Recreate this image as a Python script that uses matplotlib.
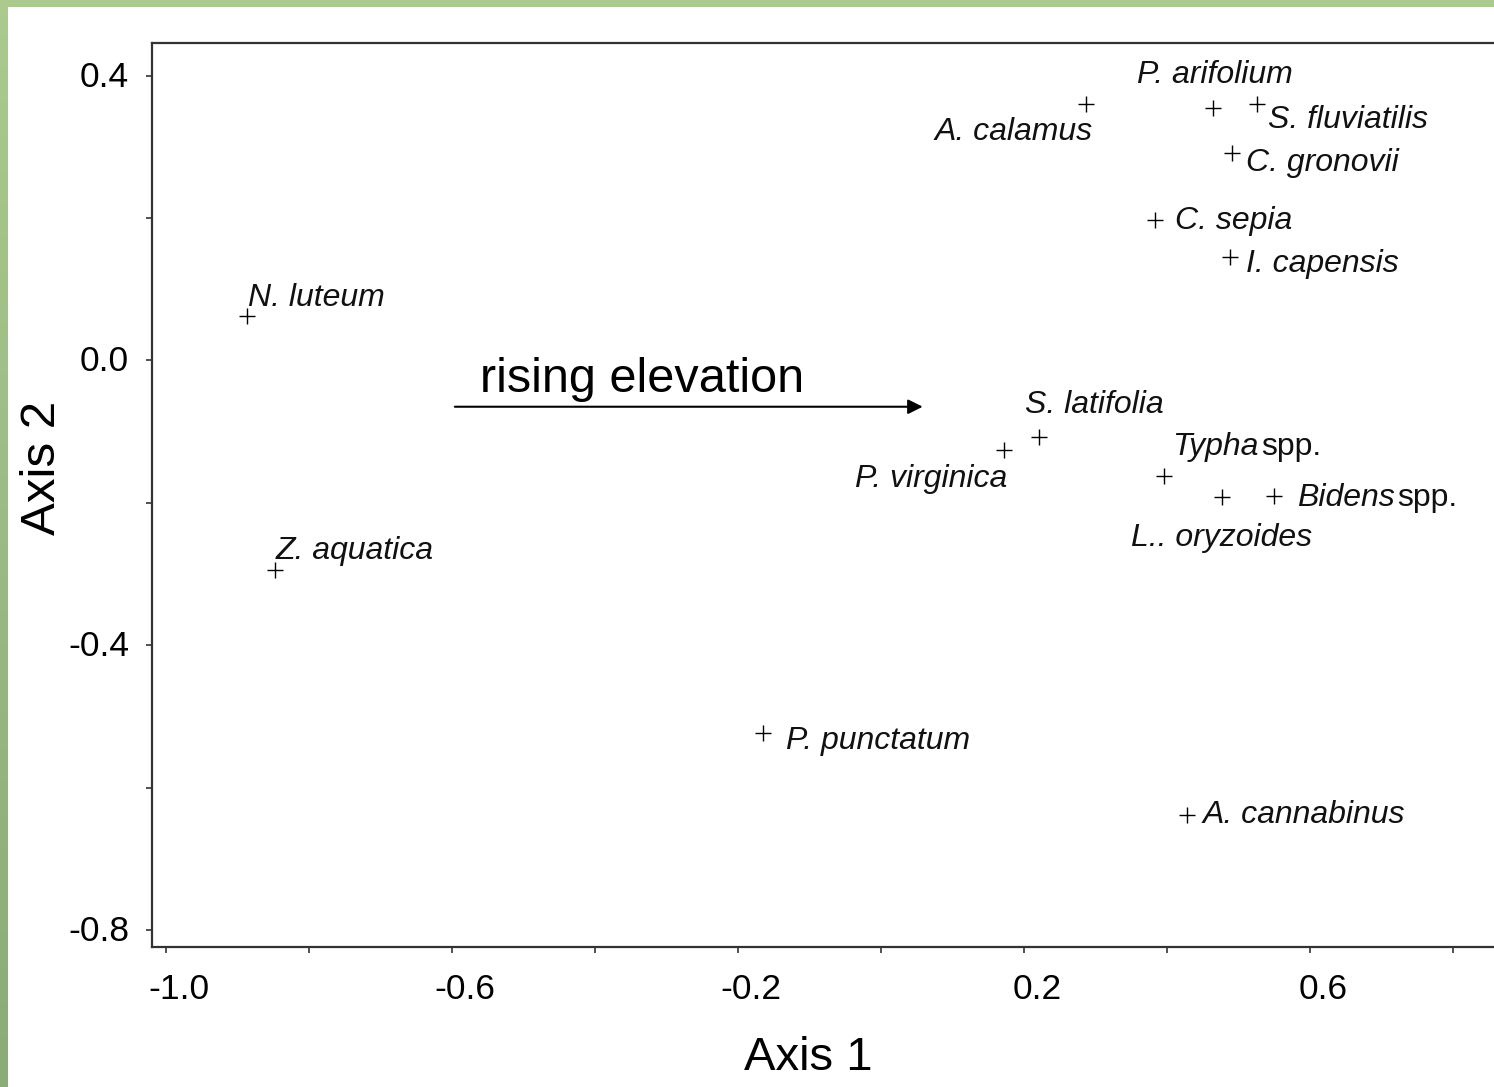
import matplotlib
matplotlib.use("Agg")
import matplotlib.pyplot as plt
import numpy as np
from matplotlib.patches import Rectangle
from matplotlib.transforms import offset_copy, ScaledTranslation

# Species ordination scores (Axis 1, Axis 2)
species = ["N. luteum", "Z. aquatica", "A. calamus", "P. arifolium", "S. fluviatilis",
           "C. gronovii", "C. sepia", "I. capensis", "S. latifolia", "P. virginica",
           "Typha", "L.. oryzoides", "Bidens", "P. punctatum", "A. cannabinus"]
axis1 = [-0.887, -0.848, 0.287, 0.464, 0.526, 0.491, 0.383, 0.488, 0.221, 0.172,
         0.396, 0.476, 0.550, -0.165, 0.428]
axis2 = [0.062, -0.295, 0.360, 0.355, 0.361, 0.291, 0.197, 0.145, -0.108, -0.126,
         -0.162, -0.192, -0.190, -0.524, -0.639]
# genus-level entries get an upright "spp." suffix
suffix = ["", "", "", "", "", "", "", "", "", "", " spp.", "", " spp.", "", ""]

x_ticks = [-1.0, -0.6, -0.2, 0.2, 0.6]
y_ticks = [0.4, 0.0, -0.4, -0.8]

# label placement: offset from the marker in pixels, horizontal alignment
label_offsets = [(1, 18, "left"), (1, 19, "left"), (6, -28, "right"), (2, 33, "center"),
                 (11, -16, "left"), (14, -10, "left"), (20, -1, "left"), (16, -7, "left"),
                 (-14, 32, "left"), (3, -29, "right"), (8, 29, "left"), (0, -41, "center"),
                 (23, -2, "left"), (23, -8, "left"), (15, 0, "left")]

W, H, DPI = 1494, 1087, 100
fig = plt.figure(figsize=(W / DPI, H / DPI), dpi=DPI)

# green frame along the left and top edges
bg = fig.add_axes([0, 0, 1, 1], zorder=-10)
bg.set_axis_off()
grad = np.linspace(0, 1, 64)[:, None]
top_c = np.array([170, 202, 142]) / 255
bot_c = np.array([138, 172, 118]) / 255
img = top_c[None, None, :] * (1 - grad[:, :, None]) + bot_c[None, None, :] * grad[:, :, None]
bg.imshow(img, extent=[0, 1, 0, 1], aspect="auto", origin="upper")
bg.add_patch(Rectangle((8 / W, 0), 1, 1 - 7 / H, facecolor="white", edgecolor="none"))
bg.set_xlim(0, 1)
bg.set_ylim(0, 1)

label_family = ["Liberation Sans"]

ax = fig.add_axes([152 / W, (H - 947) / H, (W - 152) / W, (947 - 43) / H])
ax.set_facecolor("none")
ax.set_xlim(-1.0196, 0.857)
ax.set_ylim(-0.824, 0.446)

for side in ["left", "bottom", "top"]:
    ax.spines[side].set_color("#333333")
    ax.spines[side].set_linewidth(1.6)
ax.spines["right"].set_visible(False)

ax.set_xticks(x_ticks)
ax.set_xticklabels([f"{v:.1f}" for v in x_ticks])
ax.set_yticks(y_ticks)
ax.set_yticklabels([f"{v:.1f}" for v in y_ticks])
ax.set_xticks([-0.8, -0.4, 0.0, 0.4, 0.8], minor=True)
ax.set_yticks([0.2, -0.2, -0.6], minor=True)
ax.tick_params(which="both", direction="out", length=4.5, width=1.2, color="#333333",
               top=False, right=False)
ax.tick_params(axis="y", which="major", pad=12)
ax.tick_params(axis="x", which="major", pad=14)
shift_right = ScaledTranslation(13 / DPI, 0, fig.dpi_scale_trans)
shift_up = ScaledTranslation(0, 2 / DPI, fig.dpi_scale_trans)
for lab in ax.get_xticklabels():
    lab.set_fontfamily("Liberation Sans")
    lab.set_fontsize(25.5)
    lab.set_transform(lab.get_transform() + shift_right)
for lab in ax.get_yticklabels():
    lab.set_fontfamily("Liberation Sans")
    lab.set_fontsize(25.5)
    lab.set_transform(lab.get_transform() + shift_up)

ax.set_xlabel("Axis 1", fontsize=34, family="Liberation Sans")
ax.xaxis.set_label_coords((808 - 152) / 1342, (947 - 1058) / 904)
ax.xaxis.label.set_verticalalignment("center")
ax.set_ylabel("Axis 2", fontsize=35.5, family="Liberation Sans")
ax.yaxis.set_label_coords((42 - 152) / 1342, (947 - 468) / 904)
ax.yaxis.label.set_verticalalignment("center")

ax.scatter(axis1, axis2, marker="+", s=130, color="black", linewidths=1.0, zorder=3)

label_texts = []
for name, x, y, (dx, dy, ha), suf in zip(species, axis1, axis2, label_offsets, suffix):
    tr = offset_copy(ax.transData, fig=fig, x=dx, y=dy, units="dots")
    t = ax.text(x, y, name, transform=tr, ha=ha, va="center", fontsize=23,
                style="italic", family=label_family, color="#111111")
    label_texts.append((t, suf, x, y, dx, dy))

# upright "spp." after italic genus names
fig.canvas.draw()
renderer = fig.canvas.get_renderer()
for t, suf, x, y, dx, dy in label_texts:
    if suf:
        ext = t.get_window_extent(renderer)
        px, _ = ax.transData.transform((x, y))
        extra = ext.x1 - px
        tr = offset_copy(ax.transData, fig=fig, x=extra + 2, y=dy, units="dots")
        ax.text(x, y, suf.strip(), transform=tr, ha="left", va="center", fontsize=23,
                family=label_family, color="#111111")

# elevation gradient arrow
ax.annotate("", xy=(0.062, -0.065), xytext=(-0.6, -0.065),
            arrowprops=dict(arrowstyle="-|>", color="black", lw=1.5, mutation_scale=22))
ax.text(-0.561, -0.0265, "rising elevation", fontsize=35, family="Liberation Sans",
        ha="left", va="center")

fig.savefig("out.png", dpi=DPI)
